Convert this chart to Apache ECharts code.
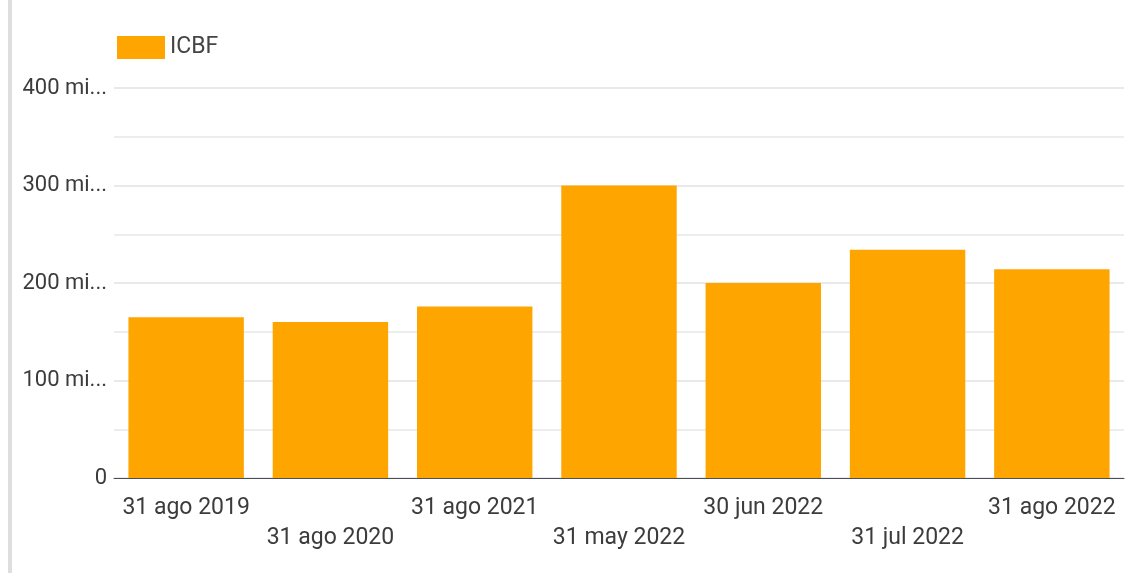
<!DOCTYPE html>
<html>
<head>
<meta charset="utf-8">
<script src="https://cdn.jsdelivr.net/npm/echarts@6/dist/echarts.min.js"></script>
<style>html,body{margin:0;padding:0;background:#fff}#c{width:1126px;height:573px}</style>
</head>
<body>
<div id="c"></div>
<script>
const categories = ['31 ago 2019','31 ago 2020','31 ago 2021','31 may 2022','30 jun 2022','31 jul 2022','31 ago 2022'];
const seriesName = 'ICBF';
const values = [165, 160, 176, 300, 200, 234, 214];
const yTickLabels = {0:'0',100:'100 mi...',200:'200 mi...',300:'300 mi...',400:'400 mi...'};

const chart = echarts.init(document.getElementById('c'), null, {renderer:'canvas'});
chart.setOption({
  animation:false,
  backgroundColor:'#fff',
  textStyle:{fontFamily:'Roboto'},
  graphic:[{type:'rect',shape:{x:8,y:0,width:4,height:573},style:{fill:'#dedede'},silent:true}],
  legend:{
    data:[seriesName], left:112, top:31, itemWidth:48, itemHeight:23, itemGap:10,
    icon:'rect',
    textStyle:{fontSize:23,color:'#444',fontFamily:'Roboto'}
  },
  grid:{left:114,right:2,top:88,bottom:95,containLabel:false},
  xAxis:{
    type:'category', data:categories,
    axisLine:{show:true,lineStyle:{color:'#4a5058',width:1}},
    axisTick:{show:false},
    axisLabel:{
      interval:0, margin:15, fontSize:23, color:'#3c3c3c', lineHeight:30, fontFamily:'Roboto',
      formatter:(v,i)=> i%2 ? '\n'+v : v
    }
  },
  yAxis:{
    type:'value', min:0, max:400, interval:100,
    axisLine:{show:false}, axisTick:{show:false},
    axisLabel:{fontSize:22,color:'#3c3c3c',margin:7,fontFamily:'Roboto',formatter:v=>yTickLabels[v]},
    splitLine:{lineStyle:{color:'#e2e2e2',width:1.5}},
    minorTick:{show:false,splitNumber:2},
    minorSplitLine:{show:true,lineStyle:{color:'#e8e8e8',width:1.5}}
  },
  series:[{
    name:seriesName, type:'bar', data:values, barCategoryGap:'20%',
    itemStyle:{color:'#ffa500'}
  }]
});
</script>
</body>
</html>
